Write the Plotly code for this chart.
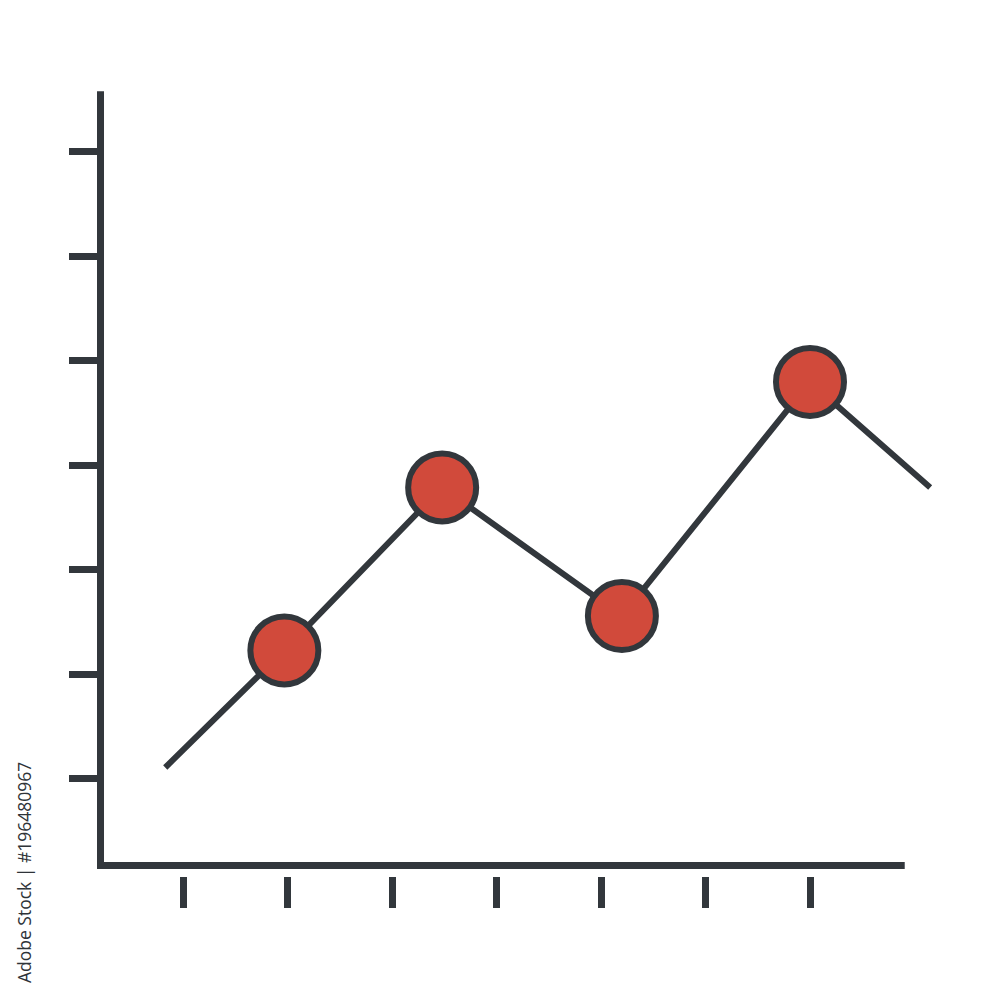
import plotly.graph_objects as go

# Data
x_vals = [0.83, 1.97, 3.48, 5.20, 7.00, 8.15]
y_vals = [1.11, 2.23, 3.79, 2.56, 4.80, 3.79]
marker_idx = [1, 2, 3, 4]
tick_vals = [1, 2, 3, 4, 5, 6, 7]

DARK = "#32373c"
RED = "#d14a3b"

fig = go.Figure()
fig.add_trace(go.Scatter(
    x=x_vals, y=y_vals, mode="lines",
    line=dict(color=DARK, width=6), hoverinfo="skip", showlegend=False,
))
fig.add_trace(go.Scatter(
    x=[x_vals[i] for i in marker_idx], y=[y_vals[i] for i in marker_idx],
    mode="markers",
    marker=dict(size=68, color=RED, line=dict(color=DARK, width=6)),
    showlegend=False, cliponaxis=False,
))

fig.update_layout(
    width=1000, height=1000,
    margin=dict(l=92, r=68, t=84, b=100),
    paper_bgcolor="white", plot_bgcolor="white",
    xaxis=dict(range=[0.2057, 8.244], tickvals=tick_vals, ticks="inside",
               ticklen=31, tickwidth=7, tickcolor=DARK, showticklabels=False,
               showgrid=False, zeroline=False, showline=False,
               anchor="free", position=0),
    yaxis=dict(range=[0.1675, 7.574], domain=[0.0515, 1], tickvals=tick_vals,
               ticks="outside", ticklen=30, tickwidth=7, tickcolor=DARK,
               showticklabels=False, showgrid=False, zeroline=False,
               showline=False),
    shapes=[dict(type="path", xref="paper", yref="paper",
                 path="M 0.0006,1.001 L 0.0006,0.052 L 0.958,0.052",
                 line=dict(color=DARK, width=7))],
    annotations=[dict(text="Adobe Stock | #196480967", xref="paper", yref="paper",
                      x=-0.0905, y=0.044, xanchor="center", yanchor="middle",
                      textangle=-90, showarrow=False,
                      font=dict(family="Open Sans", size=17.5, color="#2e3338"))],
)

fig.write_html("out.html")
